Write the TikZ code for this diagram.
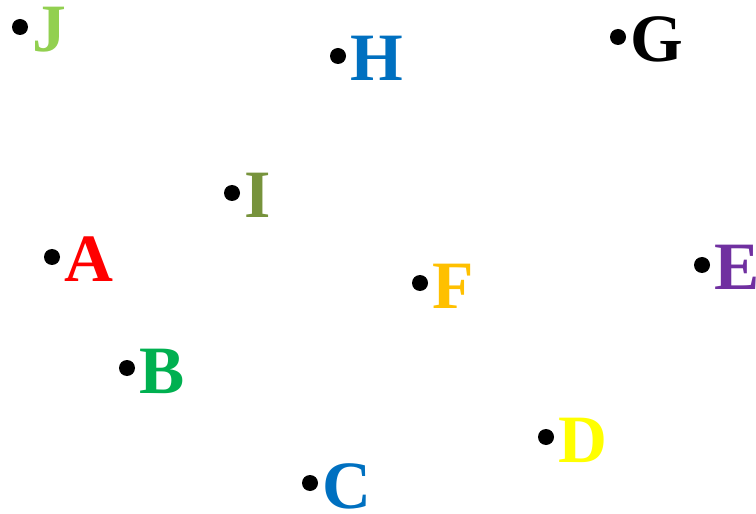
\documentclass[tikz,border=0pt]{standalone}
\usepackage{fontspec}
\setmainfont{Liberation Serif}
\definecolor{cJ}{HTML}{92D050}
\definecolor{cH}{HTML}{0070C0}
\definecolor{cG}{HTML}{000000}
\definecolor{cI}{HTML}{77933C}
\definecolor{cA}{HTML}{FF0000}
\definecolor{cF}{HTML}{FFC000}
\definecolor{cE}{HTML}{7030A0}
\definecolor{cB}{HTML}{00B050}
\definecolor{cD}{HTML}{FFFF00}
\definecolor{cC}{HTML}{0070C0}
\tikzset{
  dotpt/.style={circle,fill=black,inner sep=0pt,minimum size=16bp},
  lbl/.style={inner sep=0pt,anchor=base west,font=\fontsize{68}{68}\selectfont\bfseries}
}
\begin{document}
\begin{tikzpicture}[x=1bp,y=-1bp]
\useasboundingbox (0,0) rectangle (756,514);
\foreach \n/\x/\y in {J/20/27,H/338/56,G/618/37,I/232/193,A/52/257,F/420/283,E/702/265,B/127/368,D/546/437,C/310/483}{
  \node[dotpt] (\n) at (\x,\y) {};
  \node[lbl,text=c\n] (\n lab) at ([shift={(12,25)}]\n.center) {\n};
}
\end{tikzpicture}
\end{document}
